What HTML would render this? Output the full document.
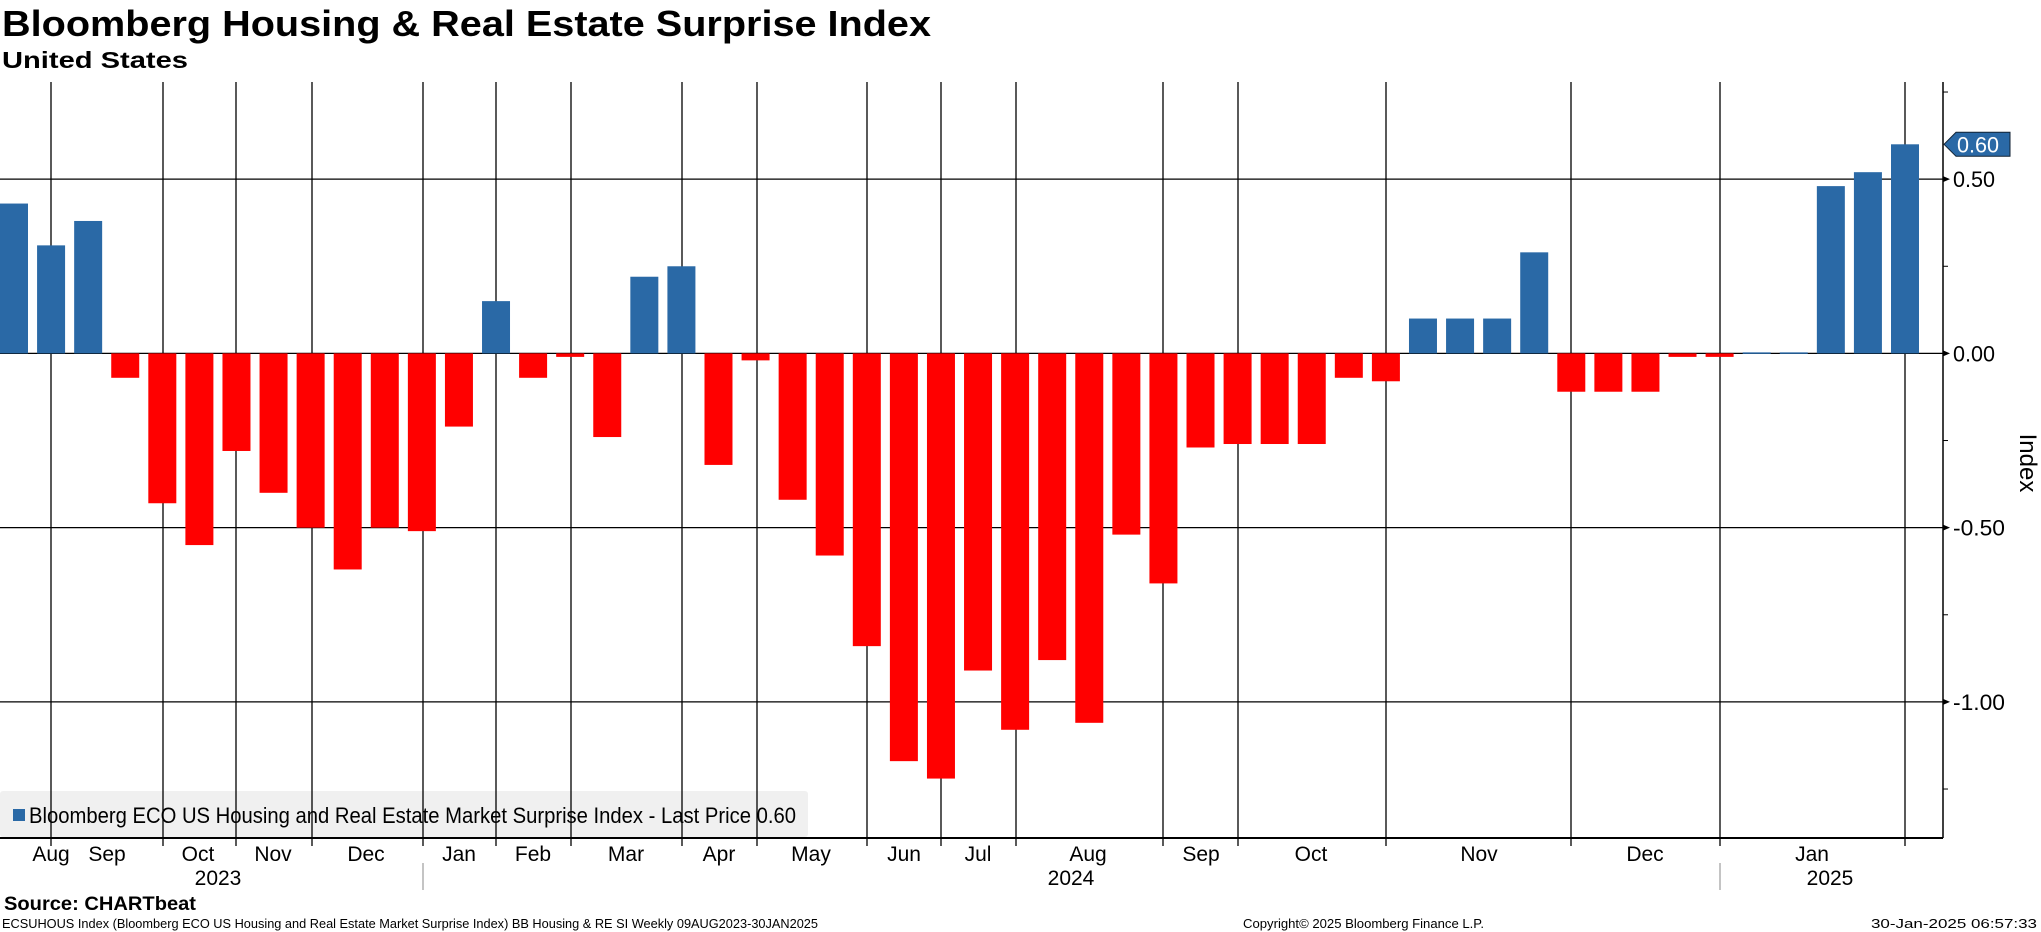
<!DOCTYPE html>
<html><head><meta charset="utf-8"><style>
html,body{margin:0;padding:0;background:#fff;}
svg{display:block;font-family:"Liberation Sans",sans-serif;}
</style></head><body>
<svg id="chart" width="2041" height="932" viewBox="0 0 2041 932" xmlns="http://www.w3.org/2000/svg">
<text x="2" y="36" font-size="36" font-weight="bold" textLength="929" lengthAdjust="spacingAndGlyphs">Bloomberg Housing &amp; Real Estate Surprise Index</text>
<text x="2" y="68" font-size="23" font-weight="bold" textLength="186" lengthAdjust="spacingAndGlyphs">United States</text>
<rect x="0" y="791" width="808" height="46" rx="3" fill="#f0f0f0"/>
<g id="grid"></g>
<g id="bars"></g>
<g id="axes"></g>
<rect x="13" y="809" width="12" height="12" fill="#2a69a6"/>
<text x="29" y="823" font-size="22" textLength="767" lengthAdjust="spacingAndGlyphs">Bloomberg ECO US Housing and Real Estate Market Surprise Index - Last Price 0.60</text>
<text transform="translate(2020,463) rotate(90)" font-size="24" text-anchor="middle">Index</text>
<text x="4" y="910" font-size="19" font-weight="bold" textLength="192" lengthAdjust="spacingAndGlyphs">Source: CHARTbeat</text>
<text x="2" y="928" font-size="13" textLength="816" lengthAdjust="spacingAndGlyphs">ECSUHOUS Index (Bloomberg ECO US Housing and Real Estate Market Surprise Index) BB Housing &amp; RE SI  Weekly 09AUG2023-30JAN2025</text>
<text x="1243" y="928" font-size="13" textLength="241" lengthAdjust="spacingAndGlyphs">Copyright© 2025 Bloomberg Finance L.P.</text>
<text x="2037" y="928" font-size="13" text-anchor="end" textLength="166" lengthAdjust="spacingAndGlyphs">30-Jan-2025 06:57:33</text>
</svg>
<script>
const values = [0.43,0.31,0.38,-0.07,-0.43,-0.55,-0.28,-0.40,-0.50,-0.62,-0.50,-0.51,-0.21,0.15,-0.07,-0.01,-0.24,0.22,0.25,-0.32,-0.02,-0.42,-0.58,-0.84,-1.17,-1.22,-0.91,-1.08,-0.88,-1.06,-0.52,-0.66,-0.27,-0.26,-0.26,-0.26,-0.07,-0.08,0.10,0.10,0.10,0.29,-0.11,-0.11,-0.11,-0.01,-0.01,0.003,0.003,0.48,0.52,0.60];
const yTicks = [0.5,0,-0.5,-1.0];
const yTickLabels = ["0.50","0.00","-0.50","-1.00"];
const yMinorTicks = [0.75,0.25,-0.25,-0.75,-1.25];
const monthLabels = ["Aug","Sep","Oct","Nov","Dec","Jan","Feb","Mar","Apr","May","Jun","Jul","Aug","Sep","Oct","Nov","Dec","Jan"];
const monthPos = [51,107,198,273,366,459,533,626,719,811,904,978,1088,1201,1311,1479,1645,1812];
const gridX = [51,163,236,312,423,496,571,682,757,867,941,1016,1163,1238,1386,1571,1720,1905];
const yearLabels = ["2023","2024","2025"];
const yearPos = [218,1071,1830];
const lastValue = 0.60;

const NS="http://www.w3.org/2000/svg";
const y0=353.4, ppu=348.5, plotTop=82, plotBottom=838, plotRight=1943;
const yS=v=>y0-v*ppu;
const xS=i=>14+i*(1905-14)/(values.length-1);
function mk(t,a,p){const e=document.createElementNS(NS,t);for(const k in a)e.setAttribute(k,a[k]);p.appendChild(e);return e;}
const grid=document.getElementById('grid'),bars=document.getElementById('bars'),axes=document.getElementById('axes');
gridX.forEach(x=>{const l=mk('line',{x1:x,x2:x,y1:plotTop,y2:plotBottom+8,stroke:'#000','stroke-width':1.3},grid);

});
yTicks.forEach((v,i)=>{const l=mk('line',{x1:0,x2:plotRight,y1:yS(v),y2:yS(v),stroke:'#000','stroke-width':1.3},grid);


const p=mk('path',{d:`M${plotRight} ${yS(v)-3}L${plotRight+7} ${yS(v)}L${plotRight} ${yS(v)+3}Z`,fill:'#000'},axes);


const t=mk('text',{x:1953,y:yS(v)+8,'font-size':22,textLength:yTickLabels[i].length>4?52:42,lengthAdjust:'spacingAndGlyphs'},axes);t.textContent=yTickLabels[i];

});
yMinorTicks.forEach(v=>{const l=mk('line',{x1:plotRight,x2:plotRight+5,y1:yS(v),y2:yS(v),stroke:'#000','stroke-width':1},axes);

});
values.forEach((v,i)=>{const w=28,x=xS(i)-w/2;const yt=Math.min(yS(v),y0),h=Math.max(Math.abs(yS(v)-y0),1.5);
const r=mk('rect',{x:x,y:yt,width:w,height:h,fill:v>=0?'#2a69a6':'#ff0000'},bars);

});
let a=mk('line',{x1:plotRight,x2:plotRight,y1:plotTop,y2:plotBottom,stroke:'#000','stroke-width':1.5},axes);


a=mk('line',{x1:0,x2:plotRight,y1:plotBottom,y2:plotBottom,stroke:'#000','stroke-width':2},axes);


monthLabels.forEach((m,i)=>{const t=mk('text',{x:monthPos[i],y:861,'font-size':21,'text-anchor':'middle'},axes);t.textContent=m;

});
yearLabels.forEach((m,i)=>{const t=mk('text',{x:yearPos[i],y:885,'font-size':21,'text-anchor':'middle'},axes);t.textContent=m;

});
[423,1720].forEach(x=>{const l=mk('line',{x1:x,x2:x,y1:863,y2:890,stroke:'#888','stroke-width':1},axes);

});
const ly=yS(lastValue);
const tag=mk('path',{d:`M1944 ${ly}L1956 ${ly-12}L2010 ${ly-12}L2010 ${ly+12}L1956 ${ly+12}Z`,fill:'#2a69a6',stroke:'#123',"stroke-width":1},axes);


const tt=mk('text',{x:1957,y:ly+8,'font-size':22,fill:'#fff',textLength:42,lengthAdjust:'spacingAndGlyphs'},axes);tt.textContent=lastValue.toFixed(2);


</script>
</body></html>
